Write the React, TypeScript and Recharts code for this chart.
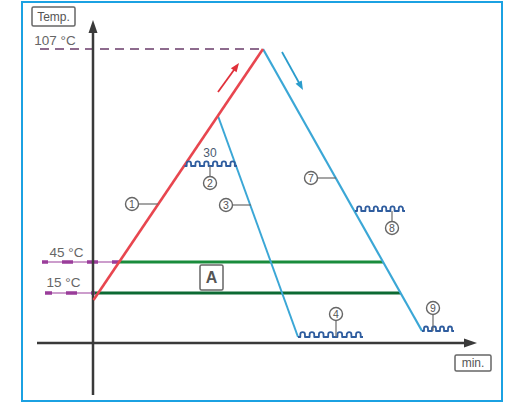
import React from 'react';
import { ComposedChart, XAxis, YAxis, ReferenceLine, ReferenceDot, ReferenceArea } from 'recharts';

const FONT = '"Liberation Sans", Arial, Helvetica, sans-serif';

// schematic axes (time in arbitrary minutes, temperature in schematic levels)
const xDomain: [number, number] = [-9.3, 41.5];
const yDomain: [number, number] = [-6.1, 34.3];

// temperature levels
const levelLabels = ['107 °C', '45 °C', '15 °C'];
const levelY = [29.4, 8.1, 5.0];
const levelLabelPos = [
  { x: -3.8, y: levelY[0] + 0.9 },
  { x: -2.65, y: levelY[1] + 1.0 },
  { x: -2.95, y: levelY[2] + 1.1 },
];

// temperature profile
const heating = [{ x: 0.05, y: 4.3 }, { x: 17.0, y: 29.4 }];
const cooling3 = [{ x: 12.5, y: 22.7 }, { x: 20.5, y: 0.6 }];
const cooling7 = [{ x: 17.0, y: 29.4 }, { x: 32.9, y: 1.2 }];

// reference temperatures: dashed lead-in and green band
const dash107 = [{ x: -5.3, y: levelY[0] }, { x: 17.0, y: levelY[0] }];
const dash45 = [{ x: -5.1, y: levelY[1] }, { x: 2.6, y: levelY[1] }];
const dash15 = [{ x: -4.8, y: levelY[2] }, { x: 0.2, y: levelY[2] }];
const green45 = [{ x: 2.6, y: levelY[1] }, { x: 29.0, y: levelY[1] }];
const green15 = [{ x: 0.2, y: levelY[2] }, { x: 30.8, y: levelY[2] }];

// hold periods (wavy)
const holds = [
  [{ x: 9.15, y: 17.7 }, { x: 14.4, y: 17.7 }],
  [{ x: 20.5, y: 0.6 }, { x: 27.0, y: 0.6 }],
  [{ x: 26.2, y: 13.2 }, { x: 31.2, y: 13.2 }],
  [{ x: 32.9, y: 1.2 }, { x: 36.1, y: 1.2 }],
];

// numbered callouts
const calloutNums = ['1', '2', '3', '4', '7', '8', '9'];
const calloutPos = [
  { x: 3.9, y: 13.9 },
  { x: 11.7, y: 16.0 },
  { x: 13.3, y: 13.8 },
  { x: 24.3, y: 2.9 },
  { x: 21.8, y: 16.5 },
  { x: 29.9, y: 11.5 },
  { x: 34.0, y: 3.5 },
];
const calloutLeaders = [
  [{ x: 4.6, y: 13.9 }, { x: 6.5, y: 13.9 }],
  [{ x: 11.7, y: 16.7 }, { x: 11.7, y: 17.7 }],
  [{ x: 14.0, y: 13.8 }, { x: 15.8, y: 13.8 }],
  [{ x: 24.3, y: 2.2 }, { x: 24.3, y: 0.6 }],
  [{ x: 22.5, y: 16.5 }, { x: 24.3, y: 16.5 }],
  [{ x: 29.9, y: 12.2 }, { x: 29.9, y: 13.2 }],
  [{ x: 34.0, y: 2.8 }, { x: 34.0, y: 1.2 }],
];

// direction arrows
const heatArrow = [{ x: 12.5, y: 25.1 }, { x: 14.6, y: 28.0 }];
const coolArrow = [{ x: 18.9, y: 29.1 }, { x: 21.0, y: 25.3 }];

// axes
const yAxisLine = [{ x: 0, y: -5.2 }, { x: 0, y: 32.3 }];
const xAxisLine = [{ x: -5.6, y: 0 }, { x: 38.4, y: 0 }];

// other labels
const holdTimeLabel = { text: '30', x: 11.7, y: 19.0 };
const zoneLabel = { text: 'A', x: 11.85, y: 6.55 };
const yTitle = { text: 'Temp.', x: -3.95, y: 32.65 };
const xTitle = { text: 'min.', x: 38.0, y: -2.0 };

const frame = { x1: -7.1, x2: 40.9, y1: -5.8, y2: 34.1 };

const arrowShape = (color: string, width: number, headLen: number, headW: number) => (p: any) => {
  const { x1, y1, x2, y2 } = p;
  const dx = x2 - x1;
  const dy = y2 - y1;
  const len = Math.hypot(dx, dy) || 1;
  const ux = dx / len;
  const uy = dy / len;
  const bx = x2 - ux * headLen;
  const by = y2 - uy * headLen;
  const px = -uy;
  const py = ux;
  return (
    <g>
      <line x1={x1} y1={y1} x2={bx + ux} y2={by + uy} stroke={color} strokeWidth={width} />
      <polygon
        points={`${x2},${y2} ${bx + (px * headW) / 2},${by + (py * headW) / 2} ${bx - (px * headW) / 2},${by - (py * headW) / 2}`}
        fill={color}
      />
    </g>
  );
};

const waveShape = (p: any) => {
  const { x1, y1, x2 } = p;
  const len = x2 - x1;
  const n = Math.max(1, Math.round(len / 9));
  const period = len / n;
  const w = period * 0.5;
  const g = period - w;
  let d = `M${x1},${y1}`;
  for (let i = 0; i < n; i++) {
    d += ` h${g / 2} v-2.5 a${w / 2},${w / 2} 0 0 1 ${w},0 v2.5 h${g / 2}`;
  }
  return <path d={d} fill="none" stroke="#2f5d9f" strokeWidth={1.8} strokeLinejoin="round" />;
};

const circleShape = (num: string) => (p: any) => (
  <g>
    <circle cx={p.cx} cy={p.cy} r={6.5} fill="#fff" stroke="#666" strokeWidth={1.4} />
    <text x={p.cx} y={p.cy + 3.7} textAnchor="middle" fontSize={10.5} fill="#555" fontFamily={FONT}>
      {num}
    </text>
  </g>
);

const textShape = (text: string, size: number, color: string) => (p: any) => (
  <text x={p.cx} y={p.cy + size * 0.36} textAnchor="middle" fontSize={size} fill={color} fontFamily={FONT}>
    {text}
  </text>
);

const boxShape = (text: string, w: number, h: number, size: number, bold = false) => (p: any) => (
  <g>
    <rect x={p.cx - w / 2} y={p.cy - h / 2} width={w} height={h} rx={1.5} fill="#fff" stroke="#666" strokeWidth={1.5} />
    <text
      x={p.cx}
      y={p.cy + size * 0.36}
      textAnchor="middle"
      fontSize={size}
      fill="#555"
      fontFamily={FONT}
      fontWeight={bold ? 'bold' : 'normal'}
    >
      {text}
    </text>
  </g>
);

export default function App() {
  return (
    <div style={{ position: 'absolute', left: 0, top: 0, background: '#fff' }}>
      <ComposedChart width={508} height={404} margin={{ top: 0, right: 0, bottom: 0, left: 0 }} data={heating}>
        <XAxis type="number" dataKey="x" domain={xDomain} hide allowDataOverflow />
        <YAxis type="number" dataKey="y" domain={yDomain} hide allowDataOverflow />

        <ReferenceArea x1={frame.x1} x2={frame.x2} y1={frame.y1} y2={frame.y2} fill="none" fillOpacity={0} stroke="#1ba1e2" strokeWidth={2} />

        {/* dashed lead-ins */}
        <ReferenceLine segment={dash107} stroke="#8e6b8e" strokeWidth={2} strokeDasharray="9 6" />
        <ReferenceLine segment={dash45} stroke="#9a3d9a" strokeWidth={1.2} />
        <ReferenceLine segment={dash45} stroke="#9a3d9a" strokeWidth={3.5} strokeDasharray="11 14" strokeDashoffset={5} />
        <ReferenceLine segment={dash15} stroke="#9a3d9a" strokeWidth={1.2} />
        <ReferenceLine segment={dash15} stroke="#9a3d9a" strokeWidth={3.5} strokeDasharray="11 14" strokeDashoffset={4} />

        {/* axes */}
        <ReferenceLine segment={yAxisLine} shape={arrowShape('#3a3a3a', 2.5, 13, 9)} />
        <ReferenceLine segment={xAxisLine} shape={arrowShape('#3a3a3a', 2.5, 13, 9)} />

        {/* green band */}
        <ReferenceLine segment={green45} stroke="#1a8c3c" strokeWidth={3} />
        <ReferenceLine segment={green15} stroke="#0c6a33" strokeWidth={3.2} />

        {/* profile */}
        <ReferenceLine segment={cooling3} stroke="#3ba7d6" strokeWidth={2} />
        <ReferenceLine segment={cooling7} stroke="#3ba7d6" strokeWidth={2.2} />
        <ReferenceLine segment={heating} stroke="#e8464f" strokeWidth={2.6} />

        {holds.map((s, i) => (
          <ReferenceLine key={`h${i}`} segment={s} shape={waveShape} />
        ))}

        <ReferenceLine segment={heatArrow} shape={arrowShape('#e0303a', 1.8, 9, 7)} />
        <ReferenceLine segment={coolArrow} shape={arrowShape('#2a9ccc', 1.8, 9, 7)} />

        {calloutLeaders.map((s, i) => (
          <ReferenceLine key={`l${i}`} segment={s} stroke="#6a6a6a" strokeWidth={1.2} />
        ))}
        {calloutPos.map((p, i) => (
          <ReferenceDot key={`c${i}`} x={p.x} y={p.y} r={6} shape={circleShape(calloutNums[i])} />
        ))}

        {levelLabels.map((t, i) => (
          <ReferenceDot key={`t${i}`} x={levelLabelPos[i].x} y={levelLabelPos[i].y} r={1} shape={textShape(t, 13.5, '#666')} />
        ))}
        <ReferenceDot x={holdTimeLabel.x} y={holdTimeLabel.y} r={1} shape={textShape(holdTimeLabel.text, 12, '#4a5a70')} />
        <ReferenceDot x={zoneLabel.x} y={zoneLabel.y} r={1} shape={boxShape(zoneLabel.text, 23, 25, 16, true)} />
        <ReferenceDot x={yTitle.x} y={yTitle.y} r={1} shape={boxShape(yTitle.text, 43, 19, 12)} />
        <ReferenceDot x={xTitle.x} y={xTitle.y} r={1} shape={boxShape(xTitle.text, 36, 16, 12)} />
      </ComposedChart>
    </div>
  );
}
